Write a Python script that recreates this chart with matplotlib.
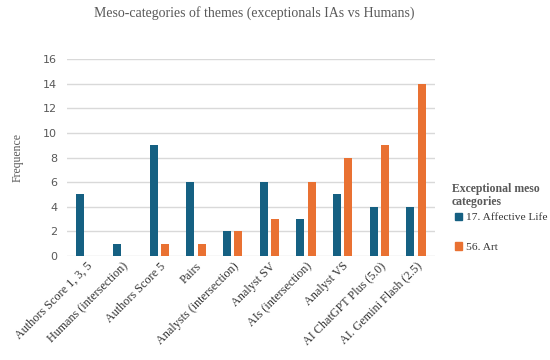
import numpy as np
import matplotlib.pyplot as plt
from matplotlib.patches import Patch

categories = ["Authors Score 1, 3, 5", "Humans (intersection)", "Authors Score 5",
              "Pairs", "Analysts (intersection)", "Analyst SV", "AIs (intersection)",
              "Analyst VS", "AI ChatGPT Plus (5.0)", "AI. Gemini Flash (2.5)"]
affective = [5, 1, 9, 6, 2, 6, 3, 5, 4, 4]
art = [0, 0, 1, 1, 2, 3, 6, 8, 9, 14]
series_names = ["17. Affective Life", "56. Art"]

blue = "#156082"
orange = "#E97132"
serif = "Liberation Serif"

fig = plt.figure(figsize=(5.5, 3.6), dpi=100)
ax = fig.add_axes([0.1227, 0.289, 0.6673, 0.547])

x = np.arange(len(categories))
w = 0.22
ax.bar(x - 0.155, affective, w, color=blue, zorder=3)
ax.bar(x + 0.155, art, w, color=orange, zorder=3)

ax.set_xlim(-0.5, len(categories) - 0.5)
ax.set_ylim(0, 16)
ax.set_yticks(range(0, 17, 2))
ax.grid(axis="y", color="#D9D9D9", linewidth=1, zorder=0)
for s in ax.spines.values():
    s.set_visible(False)
ax.tick_params(axis="both", length=0)
ax.tick_params(axis="y", labelsize=8, labelcolor="#595959", pad=7.5)
ax.set_xticks(x)
ax.set_xticklabels(categories, rotation=45, ha="right", rotation_mode="anchor",
                   fontsize=8.7, family=serif, color="#333333")
ax.tick_params(axis="x", pad=3)

ax.set_ylabel("Frequence", family=serif, fontsize=8.5, color="#595959", labelpad=14)

fig.text(0.463, 0.963, "Meso-categories of themes (exceptionals IAs vs Humans)",
         ha="center", va="center", family=serif, fontsize=10, color="#595959")

# legend title drawn separately so the gap to the entries matches
fig.text(452 / 550, 1 - 195.5 / 360, "Exceptional meso\ncategories", ha="left", va="center",
         family=serif, fontsize=8.5, weight="bold", color="#595959", linespacing=1.1)

handles = [Patch(color=blue), Patch(color=orange)]
leg = ax.legend(handles, series_names, loc="center left", bbox_to_anchor=(1.043, 0.12),
                frameon=False, prop={"family": serif, "size": 8.2},
                handlelength=0.6, handleheight=0.6,
                handletextpad=0.35, labelspacing=1.77, borderaxespad=0)
for t in leg.get_texts():
    t.set_color("#333333")

fig.savefig("out.png", dpi=100)
